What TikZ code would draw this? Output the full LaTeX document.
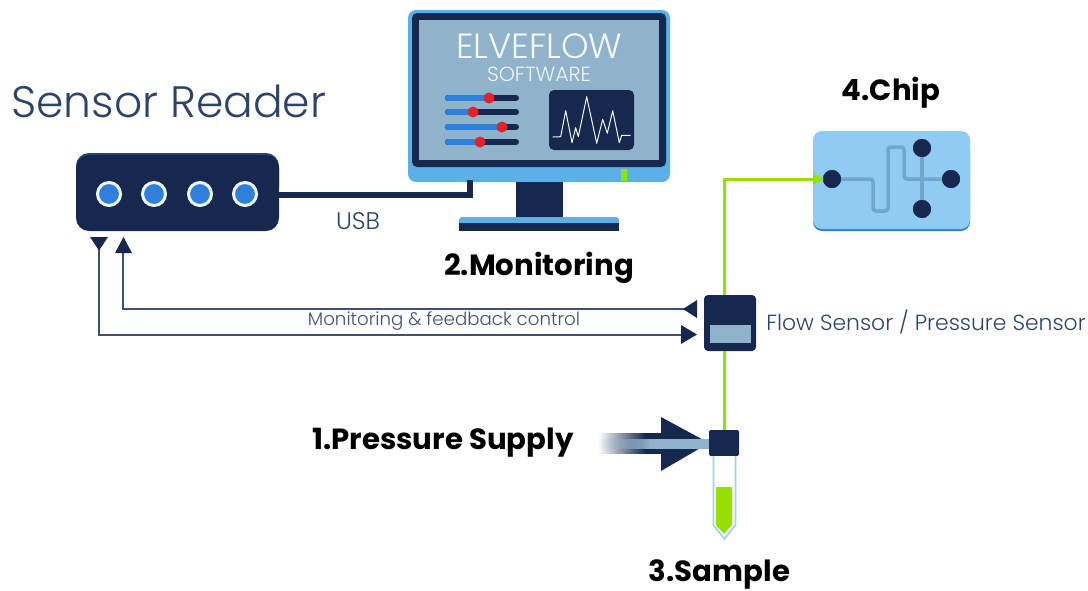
\documentclass[tikz,border=0pt]{standalone}
\usepackage{fontspec}
\setmainfont{Poppins}
\newfontfamily\lightfont{Poppins Light}
\usetikzlibrary{arrows.meta,calc,fadings}
\definecolor{navy}{HTML}{17284F}
\definecolor{navyl}{HTML}{2A4273}
\definecolor{skyb}{HTML}{5BB0E8}
\definecolor{screen}{HTML}{8FB3CB}
\definecolor{midb}{HTML}{2F80DC}
\definecolor{chipb}{HTML}{8FCBF2}
\definecolor{chan}{HTML}{6FA8CC}
\definecolor{lime}{HTML}{96E000}
\definecolor{wirec}{HTML}{3D5078}
\definecolor{txt}{HTML}{2D4468}
\definecolor{red1}{HTML}{E8202A}
\definecolor{tube}{HTML}{A5D3EE}
\tikzset{
  x=1pt,y=-1pt,
  label/.style={inner sep=0pt,outer sep=0pt,anchor=center,text=black,font=\bfseries\fontsize{29.2}{32}\selectfont},
  soft/.style={inner sep=0pt,outer sep=0pt,anchor=center,font=\lightfont\fontsize{18}{20}\selectfont,text=txt},
  wire/.style={draw=wirec,line width=1.5pt},
  green/.style={draw=lime,line width=3pt},
  usb/.style={draw=navy,line width=6pt,line join=miter},
  slidebg/.style={draw=navy,line width=6pt,line cap=round},
  slidefg/.style={draw=midb,line width=6pt,line cap=round},
  knob/.style={circle,fill=red1,minimum size=11pt,inner sep=0pt},
  port/.style={circle,fill=midb,draw=white!90!skyb,line width=3pt,minimum size=23pt,inner sep=0pt},
  chipdot/.style={circle,fill=navy,minimum size=18pt,inner sep=0pt,outer sep=0pt},
  channel/.style={draw=chan,line width=3.5pt,line join=round,rounded corners=3pt},
}
\tikzfading[name=fadefromleft,left color=transparent!100,right color=transparent!0]
\begin{document}
\begin{tikzpicture}
\useasboundingbox (0,0) rectangle (1088,590);
\coordinate (pcin) at (470,180);
% reader
\fill[navyl,rounded corners=13pt] (76,153) rectangle (279,200);
\node[fill=navy,rounded corners=13pt,minimum width=203pt,minimum height=76pt,inner sep=0pt,outer sep=0pt] (reader) at (177.5,193) {};
\foreach \n/\x in {a/109,b/154,c/200,d/245}{\node[port] (port\n) at (\x,194) {};}
% monitor
\fill[skyb,rounded corners=8pt] (408,10) rectangle (670,182);
\fill[navy,rounded corners=5pt] (412,13) rectangle (666,167);
\fill[screen] (419,20) rectangle (659,160);
\fill[lime] (621,169) rectangle (627,181);
\fill[navy] (516,182) rectangle (563,217);
\fill[skyb,rounded corners=3pt] (459,217) rectangle (619,226);
\fill[navy] (459,223) rectangle (619,231);
\node[inner sep=0pt,text=white!92!screen,font=\lightfont\fontsize{35}{37}\selectfont] (elve) at (539,46) {ELVEFLOW};
\node[inner sep=0pt,text=white!85!screen,font=\lightfont\fontsize{20.5}{22}\selectfont] (soft) at (539,74) {SOFTWARE};
\foreach \y/\k in {98/489,112/473,127/502,142/480}{
  \draw[slidebg] (448,\y) -- (516,\y);
  \draw[slidefg] (448,\y) -- (\k,\y);
  \node[knob] at (\k,\y) {};
}
\fill[navy,rounded corners=5pt] (549,90) rectangle (634,150);
\draw[white!85!screen,line width=1pt,line join=round] (552.7,137) -- (560.7,136.7) -- (565.7,110.7) -- (572,142.7) -- (575.7,127.7) -- (578.3,136.7) -- (586.7,96.7) -- (596.7,143.3) -- (602.7,119.3) -- (607.3,133.3) -- (612.7,110.7) -- (619.3,142.7) -- (621.7,135.3) -- (630.7,135.3);
% usb
\draw[usb] (reader.east |- 0,195) -| (pcin);
\node[soft,font=\lightfont\fontsize{24}{26}\selectfont] (usblabel) at (358,221) {USB};
% flow sensor
\node[fill=navy,rounded corners=4pt,minimum width=52pt,minimum height=56pt,inner sep=0pt,outer sep=0pt] (flow) at (730,323) {};
\fill[screen] (710,325) rectangle (751,343);
% chip
\fill[midb,rounded corners=9pt] (813,140) rectangle (970,231);
\fill[chipb,rounded corners=9pt] (813,131) rectangle (970,229);
\node[chipdot] (c1) at (832,179) {};
\node[chipdot] (c2) at (922,148) {};
\node[chipdot] (c3) at (951,179) {};
\node[chipdot] (c4) at (922,209) {};
\draw[channel] (c1) -- (873,179) -- (873,211) -- (888,211) -- (888,147) -- (904,147) -- (904,179) -- (c3);
\draw[channel,rounded corners=0pt] (c2) -- (c4);
\node[chipdot] at (c1) {};\node[chipdot] at (c2) {};\node[chipdot] at (c3) {};\node[chipdot] at (c4) {};
% sample
\node[fill=navy,rounded corners=2pt,minimum width=30pt,minimum height=26pt,inner sep=0pt,outer sep=0pt] (cap) at (724,443) {};
\draw[tube,line width=1.8pt,line join=round,fill=white] (713.5,456) -- (713.5,525) -- (724.5,539) -- (735.5,525) -- (735.5,456);
\fill[lime] (716,487) -- (732,487) -- (732,525) -- (724,534) -- (716,525) -- cycle;
% green tubing
\coordinate (chipin) at (822,179);
\coordinate (flowtop) at (724,295);
\coordinate (flowbot) at (724,351);
\draw[green] (cap.north -| flowbot) -- (flowbot);
\draw[green] (flowtop) |- (chipin);
\fill[lime] (813,173) -- (824,179) -- (813,185) -- cycle;
% pressure arrow
\fill[navy,path fading=fadefromleft] (598,433) rectangle (645,454);
\fill[navy] (644.5,433) rectangle (668,454);
\fill[navy] (661,417) -- (709,443) -- (661,471) -- cycle;
\fill[screen,path fading=fadefromleft] (598,439) rectangle (650,449);
\fill[screen] (649.5,439) rectangle (709,449);
% signal wires
\coordinate (wtop) at (685,309);
\coordinate (wbot) at (685,335);
\coordinate (rin) at (123,245);
\coordinate (rout) at (99,245);
\draw[wire] (wtop) -| (rin);
\draw[wire] (wbot) -| (rout);
\fill[navy] (115,253) -- (132,253) -- (123.5,237) -- cycle;
\fill[navy] (90,237) -- (108,237) -- (99,250.5) -- cycle;
\fill[navy] (683,309) -- (697,300) -- (697,318) -- cycle;
\fill[navy] (681,325) -- (697,334.5) -- (681,344) -- cycle;
% labels
\node[inner sep=0pt,anchor=west,text=txt,font=\lightfont\fontsize{44}{46}\selectfont] (title) at (11,101) {Sensor Reader};
\node[label] (l4) at (891,93) {4.Chip};
\node[label] (l2) at (539,268) {2.Monitoring};
\node[soft,font=\lightfont\fontsize{18.2}{20}\selectfont,text=wirec] (mf) at (444,321) {Monitoring \& feedback control};
\node[soft,font=\lightfont\fontsize{21.9}{24}\selectfont] (fl) at (926,322) {Flow Sensor / Pressure Sensor};
\node[label] (l1) at (443,443) {1.Pressure Supply};
\node[label] (l3) at (719.5,574) {3.Sample};
\end{tikzpicture}
\end{document}
